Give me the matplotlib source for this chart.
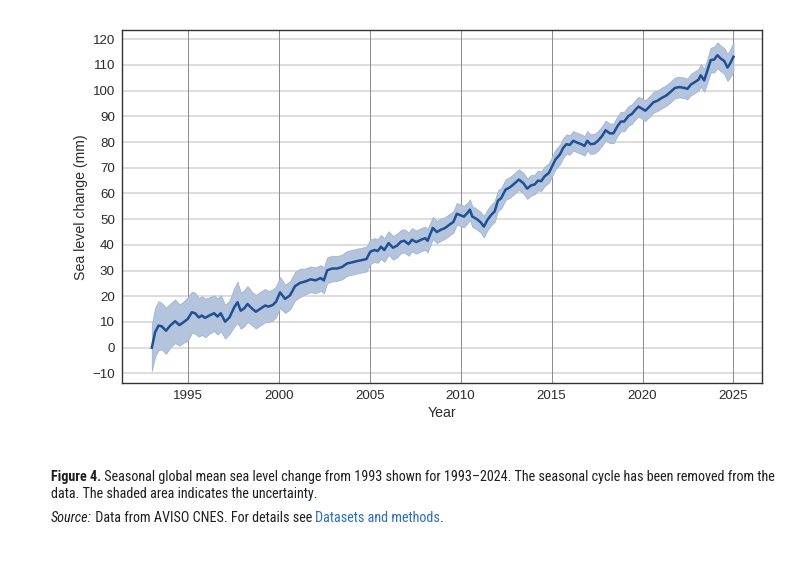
import numpy as np
import matplotlib
matplotlib.use("Agg")
import matplotlib.pyplot as plt

# --- DATA ---
years = [
    1993.02, 1993.20, 1993.39, 1993.57, 1993.80, 1994.03, 1994.30, 1994.54, 1994.76,
    1995.00, 1995.22, 1995.40, 1995.60, 1995.77, 1995.95, 1996.23, 1996.45, 1996.63,
    1996.81, 1997.05, 1997.29, 1997.55, 1997.73, 1997.91, 1998.10, 1998.28, 1998.52,
    1998.74, 1998.97, 1999.25, 1999.43, 1999.67, 1999.85, 2000.07, 2000.35, 2000.62,
    2000.90, 2001.17, 2001.47, 2001.75, 2002.02, 2002.30, 2002.48, 2002.66, 2002.93,
    2003.20, 2003.48, 2003.76, 2004.03, 2004.30, 2004.58, 2004.82, 2005.04, 2005.26,
    2005.44, 2005.62, 2005.80, 2006.04, 2006.28, 2006.50, 2006.72, 2006.90, 2007.14,
    2007.32, 2007.56, 2007.82, 2008.05, 2008.18, 2008.47, 2008.69, 2008.91, 2009.15,
    2009.39, 2009.60, 2009.79, 2010.00, 2010.18, 2010.37, 2010.51, 2010.64, 2010.88,
    2011.10, 2011.28, 2011.47, 2011.68, 2011.87, 2012.05, 2012.23, 2012.47, 2012.71,
    2012.93, 2013.20, 2013.44, 2013.66, 2013.88, 2014.07, 2014.25, 2014.43, 2014.62,
    2014.85, 2015.04, 2015.22, 2015.46, 2015.64, 2015.82, 2016.00, 2016.19, 2016.41,
    2016.63, 2016.81, 2016.96, 2017.14, 2017.36, 2017.55, 2017.78, 2017.97, 2018.20,
    2018.40, 2018.63, 2018.81, 2018.99, 2019.23, 2019.41, 2019.60, 2019.78, 2020.00,
    2020.15, 2020.38, 2020.60, 2020.82, 2021.06, 2021.30, 2021.52, 2021.79, 2022.03,
    2022.29, 2022.47, 2022.66, 2022.89, 2023.08, 2023.20, 2023.39, 2023.57, 2023.75,
    2023.94, 2024.12, 2024.30, 2024.49, 2024.67, 2024.82, 2025.00,
]

# global mean sea level change (mm)
gmsl = [
    0.0, 6.0, 8.6, 8.3, 6.6, 8.6, 10.3, 8.8, 9.9,
    11.2, 13.8, 13.4, 11.8, 12.5, 11.6, 12.7, 13.4, 12.1,
    13.4, 10.1, 11.8, 15.7, 17.7, 14.4, 15.3, 17.0, 15.3,
    14.0, 15.1, 16.4, 16.0, 16.6, 17.9, 21.5, 19.0, 20.4,
    24.0, 25.2, 25.8, 26.6, 26.2, 27.1, 26.2, 30.1, 30.8,
    30.8, 31.4, 32.8, 33.2, 33.7, 34.1, 34.5, 37.4, 38.0,
    37.6, 39.3, 38.0, 40.7, 38.9, 39.7, 41.3, 41.6, 40.3,
    42.0, 41.1, 42.0, 42.6, 41.6, 46.6, 45.0, 45.9, 46.6,
    47.9, 48.9, 52.1, 51.5, 51.0, 52.4, 53.7, 51.0, 50.1,
    48.8, 47.1, 49.7, 51.7, 53.0, 57.2, 58.2, 61.5, 62.4,
    63.7, 65.4, 64.1, 61.9, 63.2, 63.5, 65.0, 64.8, 66.7,
    68.0, 70.7, 73.3, 75.2, 77.8, 79.2, 78.9, 80.5, 79.8,
    79.2, 78.5, 80.5, 79.2, 79.4, 80.5, 82.4, 84.6, 83.4,
    83.4, 86.3, 88.0, 88.0, 90.2, 90.9, 92.5, 93.8, 92.9,
    92.2, 93.8, 95.5, 96.1, 97.2, 98.1, 99.4, 101.1, 101.4,
    101.1, 100.7, 102.4, 103.4, 104.3, 106.0, 104.0, 107.9, 111.9,
    112.1, 113.8, 112.5, 111.6, 109.0, 110.6, 113.2,
]

# half-width of the shaded uncertainty band (mm)
uncertainty = [
    9.0, 9.5, 9.5, 9.0, 9.0, 8.5, 8.5, 8.0, 8.0,
    8.5, 8.0, 8.0, 7.5, 7.5, 7.5, 7.0, 7.0, 7.0,
    7.0, 6.5, 6.5, 7.5, 8.0, 7.0, 7.0, 7.0, 6.5,
    6.5, 6.5, 6.5, 6.0, 6.0, 6.0, 6.0, 5.5, 5.5,
    5.5, 5.5, 5.0, 5.0, 5.0, 5.0, 5.0, 5.0, 5.0,
    4.8, 4.8, 4.8, 4.8, 4.8, 4.8, 4.8, 4.8, 4.6,
    4.6, 4.6, 4.6, 4.6, 4.6, 4.6, 4.5, 4.5, 4.5,
    4.5, 4.5, 4.5, 4.5, 4.5, 4.3, 4.3, 4.3, 4.2,
    4.2, 4.2, 4.2, 4.2, 4.2, 4.0, 4.0, 4.0, 4.0,
    4.0, 4.2, 4.0, 4.0, 4.0, 4.0, 4.0, 4.0, 4.0,
    4.0, 4.0, 4.0, 4.0, 4.0, 3.8, 3.8, 3.8, 3.8,
    3.8, 3.8, 3.8, 3.8, 3.8, 3.8, 3.8, 3.8, 3.8,
    3.8, 3.8, 3.8, 3.8, 3.8, 3.8, 3.8, 3.8, 3.8,
    3.8, 3.8, 3.8, 3.8, 3.8, 3.8, 3.8, 3.8, 4.0,
    4.0, 4.0, 4.0, 4.0, 4.0, 4.0, 4.0, 4.0, 4.0,
    4.0, 4.0, 4.2, 4.2, 4.2, 4.4, 4.4, 4.6, 4.8,
    5.0, 5.0, 5.0, 5.0, 5.2, 5.4, 5.6,
]

y_ticks = list(range(-10, 121, 10))
x_ticks = [1995, 2000, 2005, 2010, 2015, 2020, 2025]

LINE_COLOR = "#1f4f94"
BAND_COLOR = "#b3c4dc"
BAND_EDGE = "#9fb4d4"
LINK_COLOR = "#2a6ebb"
TEXT_COLOR = "#2b2b2b"

plt.rcParams["font.family"] = ["Liberation Sans", "DejaVu Sans"]
CAPTION_FONT = ["Roboto Condensed", "DejaVu Sans"]

t = np.array(years)
v = np.array(gmsl)
u = np.array(uncertainty)
assert len(t) == len(v) == len(u)

fig = plt.figure(figsize=(8.12, 5.61), dpi=100)
ax = fig.add_axes([0.150, 0.317, 0.788, 0.629])

ax.fill_between(t, v - u, v + u, color=BAND_COLOR, edgecolor=BAND_EDGE,
                linewidth=0.6, zorder=2)
ax.plot(t, v, color=LINE_COLOR, linewidth=1.8, zorder=3)

ax.set_xlim(1991.37, 2026.55)
ax.set_ylim(-13.8, 123.5)
ax.set_xticks(x_ticks)
ax.set_yticks(y_ticks)
ax.set_yticklabels([str(y).replace("-", "\u2212") for y in y_ticks])

# grid: light horizontal lines, darker vertical ones
for y in y_ticks:
    ax.axhline(y, color="#dadada", linewidth=1.3, zorder=1)
for x in x_ticks:
    ax.axvline(x, color="#8a8a8a", linewidth=0.7, zorder=1)

ax.tick_params(axis="both", length=0, labelsize=9.6, colors=TEXT_COLOR, pad=5)
for sp in ax.spines.values():
    sp.set_color("#333333")
    sp.set_linewidth(1.0)
    sp.set_zorder(4)

ax.set_xlabel("Year", fontsize=10.2, color=TEXT_COLOR, labelpad=3)
ax.set_ylabel("Sea level change (mm)", fontsize=10.2, color=TEXT_COLOR, labelpad=3)

# caption, built from pieces so the styles can change inside a line
renderer = fig.canvas.get_renderer()

line1 = [("Figure 4.", {"fontweight": "bold"}),
         (" Seasonal global mean sea level change from 1993 shown for 1993\u20132024. "
          "The seasonal cycle has been removed from the", {})]
line2 = [("data. The shaded area indicates the uncertainty.", {})]
line3 = [("Source:", {"fontstyle": "italic"}),
         (" Data from AVISO CNES. For details see ", {}),
         ("Datasets and methods", {"color": LINK_COLOR}),
         (".", {})]


def put_line(pieces, x_px, y_px, size):
    x = x_px
    for txt, style in pieces:
        kw = dict(fontsize=size, color="#1e1e1e", va="baseline", ha="left",
                  family=CAPTION_FONT)
        kw.update(style)
        tx = fig.text(x / 812, 1 - y_px / 561, txt, **kw)
        x += tx.get_window_extent(renderer=renderer).width
    return x - x_px


# size the caption so the first line spans the same width as the reference
probe = put_line(line1, 51, -100, 10)
for tx in list(fig.texts):
    tx.remove()
cap_size = 10 * 726 / probe

put_line(line1, 51, 481, cap_size)
put_line(line2, 51, 498, cap_size)
put_line(line3, 51, 522, cap_size)

plt.savefig("out.png", dpi=100)
